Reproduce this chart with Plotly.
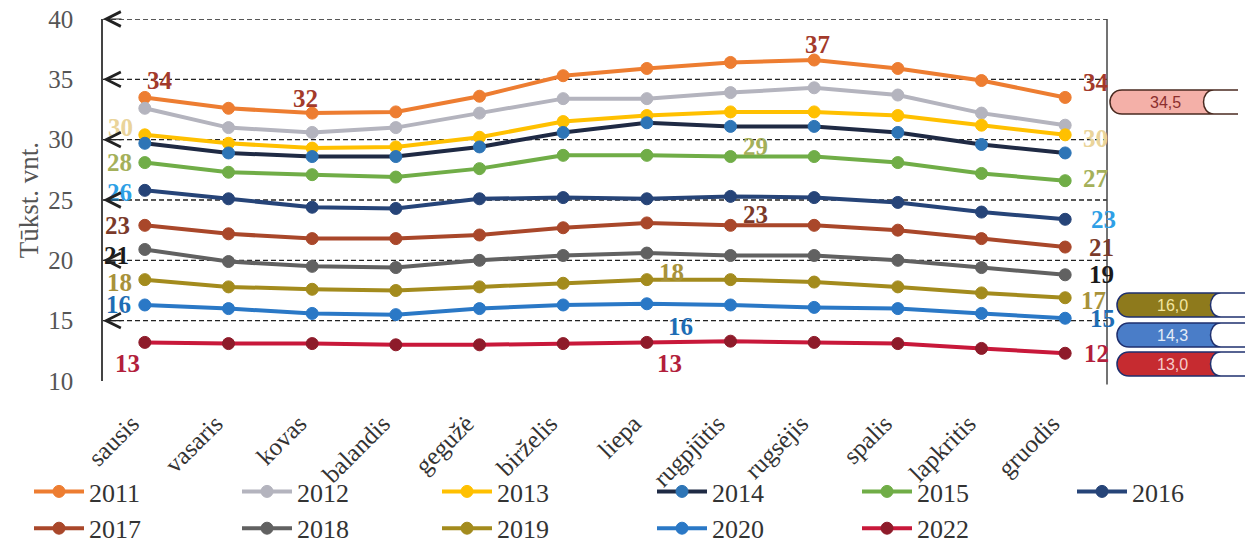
import plotly.graph_objects as go
import numpy as np

months = ["sausis", "vasaris", "kovas", "balandis", "gegužė", "birželis",
          "liepa", "rugpjūtis", "rugsėjis", "spalis", "lapkritis", "gruodis"]

years = ["2011", "2012", "2013", "2014", "2015", "2016",
         "2017", "2018", "2019", "2020", "2022"]

y2011 = [33.5, 32.6, 32.2, 32.3, 33.6, 35.3, 35.9, 36.4, 36.6, 35.9, 34.9, 33.5]
y2012 = [32.6, 31.0, 30.6, 31.0, 32.2, 33.4, 33.4, 33.9, 34.3, 33.7, 32.2, 31.2]
y2013 = [30.4, 29.7, 29.3, 29.4, 30.2, 31.5, 32.0, 32.3, 32.3, 32.0, 31.2, 30.4]
y2014 = [29.7, 28.9, 28.6, 28.6, 29.4, 30.6, 31.4, 31.1, 31.1, 30.6, 29.6, 28.9]
y2015 = [28.1, 27.3, 27.1, 26.9, 27.6, 28.7, 28.7, 28.6, 28.6, 28.1, 27.2, 26.6]
y2016 = [25.8, 25.1, 24.4, 24.3, 25.1, 25.2, 25.1, 25.3, 25.2, 24.8, 24.0, 23.4]
y2017 = [22.9, 22.2, 21.8, 21.8, 22.1, 22.7, 23.1, 22.9, 22.9, 22.5, 21.8, 21.1]
y2018 = [20.9, 19.9, 19.5, 19.4, 20.0, 20.4, 20.6, 20.4, 20.4, 20.0, 19.4, 18.8]
y2019 = [18.4, 17.8, 17.6, 17.5, 17.8, 18.1, 18.4, 18.4, 18.2, 17.8, 17.3, 16.9]
y2020 = [16.3, 16.0, 15.6, 15.5, 16.0, 16.3, 16.4, 16.3, 16.1, 16.0, 15.6, 15.2]
y2022 = [13.2, 13.1, 13.1, 13.0, 13.0, 13.1, 13.2, 13.3, 13.2, 13.1, 12.7, 12.3]

series_values = [y2011, y2012, y2013, y2014, y2015, y2016,
                 y2017, y2018, y2019, y2020, y2022]

y_ticks = [10, 15, 20, 25, 30, 35, 40]
ref_lines = [15, 20, 25, 30, 35, 40]
badge_texts = ["34,5", "16,0", "14,3", "13,0"]

# ---------------- styles ----------------
line_colors = ["#ED7D31", "#B4B4BE", "#FFC000", "#1F2A44", "#70AD47", "#264478",
               "#A9472A", "#616161", "#A38B1D", "#2A78C6", "#C8183A"]
marker_colors = ["#ED7D31", "#B4B4BE", "#FFC000", "#2E75B6", "#70AD47", "#264478",
                 "#A9472A", "#616161", "#A38B1D", "#2A78C6", "#8E1B2A"]
label_colors = {"2011": "#A33A2B", "2013": "#EAD49A", "2015": "#A4B05A",
                "2016": "#2E9FE6", "2017": "#7A3A2A", "2018": "#1A1A1A",
                "2019": "#A8923A", "2020": "#1E6DB5", "2022": "#B21F3C"}
# (month index, xshift px, yshift px)
label_specs = {
    "2011": [(0, 15, 17), (2, -7, 15), (8, 3, 16), (11, 31, 15)],
    "2013": [(0, -24, 7), (11, 30, -4)],
    "2015": [(0, -25, 0), (7, 25, 10), (11, 30, 2)],
    "2016": [(0, -25, -2), (11, 38, 0)],
    "2017": [(0, -27, 0), (7, 25, 11), (11, 36, 0)],
    "2018": [(0, -28, -6), (11, 36, 0)],
    "2019": [(0, -25, -3), (6, 25, 7), (11, 28, -3)],
    "2020": [(0, -26, 0), (6, 34, -23), (11, 37, 0)],
    "2022": [(0, -17, -21), (6, 23, -21), (11, 31, 0)],
}
legend_cols = [["2011", "2017"], ["2012", "2018"], ["2013", "2019"],
               ["2014", "2020"], ["2015", "2022"], ["2016"]]
legend_px = [32, 240, 440, 655, 860, 1075]

SERIF = "Liberation Serif"
L, R, T, B = 103, 147, 19, 163
W, H = 1254, 544
PW = W - L - R
PH = H - T - B

fig = go.Figure()

legend_of = {}
for ci, col in enumerate(legend_cols):
    for yr in col:
        legend_of[yr] = "legend" if ci == 0 else f"legend{ci + 1}"

for i, yr in enumerate(years):
    fig.add_trace(go.Scatter(
        x=months, y=series_values[i], name=yr, mode="lines+markers",
        line=dict(color=line_colors[i], width=4),
        marker=dict(color=marker_colors[i], size=12, symbol="circle",
                    line=dict(color=marker_colors[i], width=1)),
        legend=legend_of[yr],
    ))

annotations = []
# data labels
for i, yr in enumerate(years):
    if yr not in label_specs:
        continue
    for (mi, dx, dy) in label_specs[yr]:
        v = series_values[i][mi]
        annotations.append(dict(
            x=months[mi], y=v, xref="x", yref="y",
            text="<b>" + str(int(np.floor(v + 0.5))) + "</b>", showarrow=False,
            xshift=dx, yshift=dy,
            font=dict(family=SERIF, size=25, color=label_colors[yr]),
        ))

shapes = []
# dashed reference lines with chevrons
for v in ref_lines:
    shapes.append(dict(type="line", xref="paper", yref="y", x0=0, x1=1, y0=v, y1=v,
                       line=dict(color="#222222", width=1.3, dash="5px,3px"), layer="below"))
    annotations.append(dict(x=0, y=v, xref="paper", yref="y", ax=20, ay=0,
                            text="", showarrow=True, arrowhead=5, arrowsize=2.4,
                            arrowwidth=1.2, arrowcolor="#222222", standoff=0))
# right border
shapes.append(dict(type="line", xref="paper", yref="paper", x0=1, x1=1, y0=-0.01, y1=1,
                   line=dict(color="#444444", width=1.5)))

# badges on the right
badge_fill = ["#F4B0A8", "#8E7A1C", "#4A7DC8", "#C62B30"]
badge_line = ["#4A2A20", "#1E2F6E", "#1E2F6E", "#1E2F6E"]
badge_text_col = ["#8B2E2E", "#F3E6A0", "#E4ECF7", "#F6CACA"]
badge_cy = [102, 305, 335, 364]
badge_left = [3, 10, 10, 10]
for k, t in enumerate(badge_texts):
    yc = (H - B - badge_cy[k]) / PH
    l0 = badge_left[k]
    body = (f"M{l0+12},12 L{l0+104},12 C{l0+90},12 {l0+90},-12 {l0+104},-12 "
            f"L{l0+12},-12 C{l0-4},-12 {l0-4},12 {l0+12},12 Z")
    shapes.append(dict(type="path", xref="paper", yref="paper", xsizemode="pixel",
                       ysizemode="pixel", xanchor=1, yanchor=yc, path=body,
                       fillcolor=badge_fill[k], line=dict(color=badge_line[k], width=1.5)))
    for yy in (12, -12):
        shapes.append(dict(type="line", xref="paper", yref="paper", xsizemode="pixel",
                           ysizemode="pixel", xanchor=1, yanchor=yc,
                           x0=l0 + 104, x1=l0 + 128, y0=yy, y1=yy,
                           line=dict(color=badge_line[k], width=1.5)))
    annotations.append(dict(x=1, y=yc, xref="paper", yref="paper", xshift=l0 + 55,
                            text=t, showarrow=False, xanchor="center", yanchor="middle",
                            font=dict(family="Liberation Sans", size=16,
                                      color=badge_text_col[k])))

layout_legends = {}
for ci, col in enumerate(legend_cols):
    key = "legend" if ci == 0 else f"legend{ci + 1}"
    layout_legends[key] = dict(
        x=(legend_px[ci] - L - 3) / PW, xanchor="left", y=(H - B - 468) / PH, yanchor="top",
        orientation="v", font=dict(family=SERIF, size=26, color="#333333"),
        bgcolor="rgba(0,0,0,0)", itemwidth=50, tracegroupgap=0,
        traceorder="normal", borderwidth=0,
    )

fig.update_layout(
    width=W, height=H,
    margin=dict(l=L, r=R, t=T, b=B, autoexpand=False),
    plot_bgcolor="white", paper_bgcolor="white",
    showlegend=True,
    shapes=shapes, annotations=annotations,
    xaxis=dict(type="category", range=[-0.5, 11.5], showgrid=False, zeroline=False,
               showline=False, ticks="", tickangle=-45, ticklabelstandoff=22,
               ticklabelshift=-13, automargin=False,
               tickfont=dict(family=SERIF, size=25, color="#333333")),
    yaxis=dict(range=[10, 40], tickvals=y_ticks, showgrid=False, zeroline=False,
               showline=True, linecolor="#444444", linewidth=1.5, ticks="",
               ticklabelstandoff=23, automargin=False,
               tickfont=dict(family=SERIF, size=25, color="#555555"),
               title=dict(text="Tūkst. vnt.", standoff=2,
                          font=dict(family=SERIF, size=27, color="#555555"))),
    **layout_legends,
)

fig.write_html("out.html", config={"displayModeBar": False},
               post_script="document.body.style.margin='0px';")
